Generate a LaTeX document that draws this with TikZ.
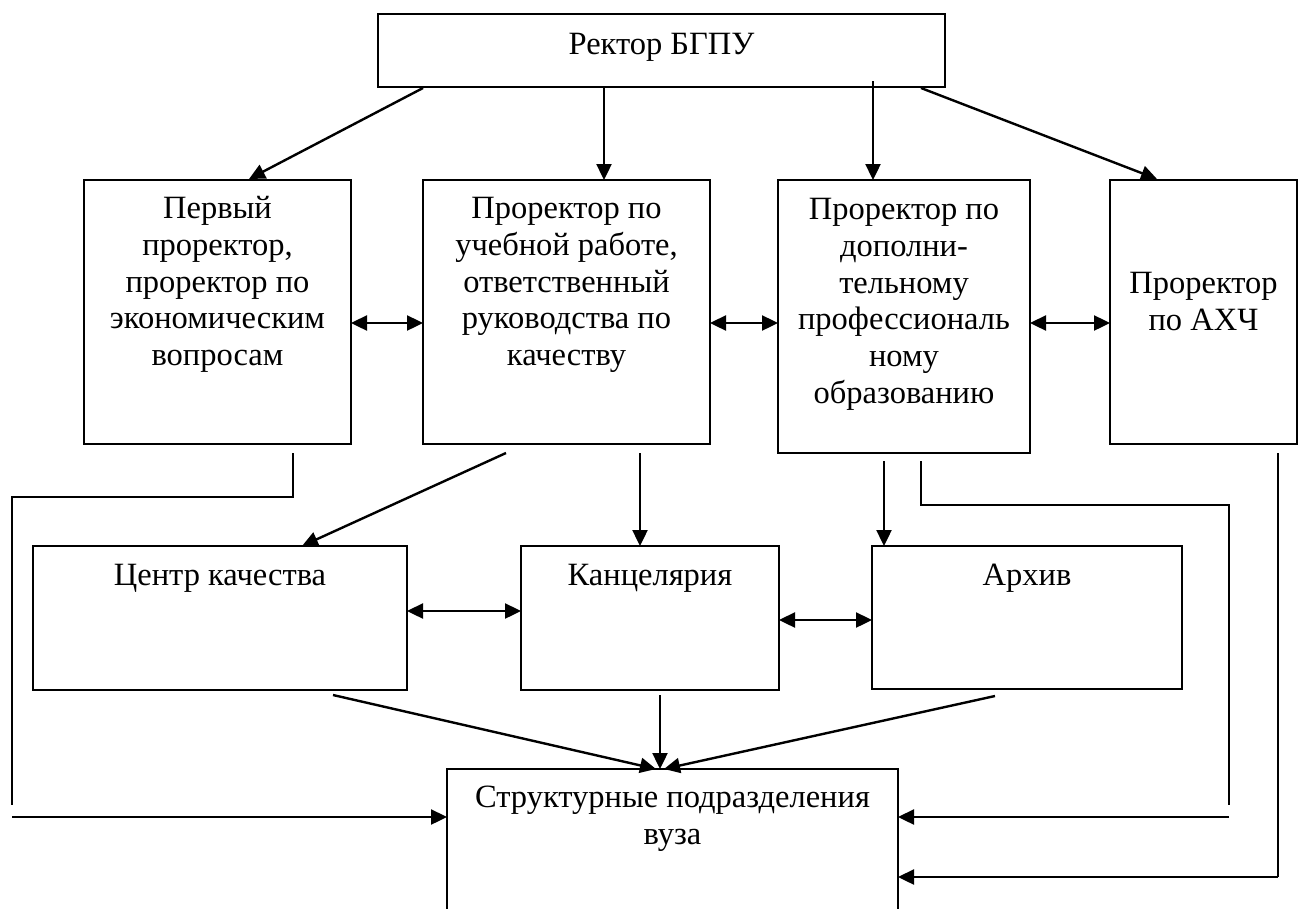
\documentclass[tikz,border=0pt]{standalone}
\usepackage{fontspec}
\setmainfont{Liberation Serif}
\usetikzlibrary{arrows.meta}
\begin{document}
\begin{tikzpicture}[x=1pt,y=-1pt,
  box/.style={draw, line width=1.8pt, inner sep=0pt, outer sep=0pt},
  txt/.style={align=center, inner sep=0pt, anchor=north, font=\fontsize{32.5}{36.8}\selectfont},
  ln/.style={line width=2.4pt},
  arr/.style={line width=2.4pt, -{Triangle[length=16pt,width=15pt]}},
  darr/.style={line width=2.4pt, {Triangle[length=16pt,width=15pt]}-{Triangle[length=16pt,width=15pt]}}]
\clip (0,0) rectangle (1299,908);
\fill[white] (0,0) rectangle (1299,908);
% boxes
\node[box, minimum width=567pt, minimum height=73pt] (rector) at (661.5,50.5) {};
\node[box, minimum width=267pt, minimum height=264pt] (b1) at (217.5,312) {};
\node[box, minimum width=287pt, minimum height=264pt] (b2) at (566.5,312) {};
\node[box, minimum width=252pt, minimum height=273pt] (b3) at (904,316.5) {};
\node[box, minimum width=187pt, minimum height=264pt] (b4) at (1203.5,312) {};
\node[box, minimum width=374pt, minimum height=144pt] (qc) at (220,618) {};
\node[box, minimum width=258pt, minimum height=144pt] (kanc) at (650,618) {};
\node[box, minimum width=310pt, minimum height=143pt] (arch) at (1027,617.5) {};
\node[box, minimum width=451pt, minimum height=200pt] (su) at (672.5,869) {};
% texts
\node[txt] (trector) at (661.5,33) {Ректор БГПУ};
\node[txt] (tb1) at (217.5,196) {Первый\\проректор,\\проректор по\\экономическим\\вопросам};
\node[txt] (tb2) at (566.5,197) {Проректор по\\учебной работе,\\ответственный\\руководства по\\качеству};
\node[txt] (tb3) at (904,198) {Проректор по\\дополни-\\тельному\\профессиональ\\ному\\образованию};
\node[txt] (tb4) at (1203.5,272) {Проректор\\по АХЧ};
\node[txt] (tqc) at (220,564) {Центр качества};
\node[txt] (tkanc) at (650,564) {Канцелярия};
\node[txt] (tarch) at (1027,564) {Архив};
\node[txt] (tsu) at (672.5,786) {Структурные подразделения\\вуза};
% coordinates
\coordinate (r1) at (423,88);
\coordinate (e1) at (249,179);
\coordinate (r2) at (604,88);
\coordinate (r3) at (873,81);
\coordinate (r4) at (921,88);
\coordinate (e4) at (1157,179);
\coordinate (p1) at (293,453);
\coordinate (p2) at (12,497);
\coordinate (p3) at (12,805);
\coordinate (p4) at (12,817);
\coordinate (d1) at (506,453);
\coordinate (d2) at (302,546);
\coordinate (k1) at (640,453);
\coordinate (a1) at (884,461);
\coordinate (q1) at (921,461);
\coordinate (q2) at (1229,505);
\coordinate (q3) at (1229,805);
\coordinate (q4) at (1229,817);
\coordinate (h1) at (1278,453);
\coordinate (h2) at (1278,877);
\coordinate (s1) at (333,695);
\coordinate (s2) at (656,769);
\coordinate (s3) at (660,695);
\coordinate (s4) at (995,696);
\coordinate (s5) at (664,769);
% rector arrows
\draw[arr] (r1) -- (e1);
\draw[arr] (r2) -- (r2 |- b2.north);
\draw[arr] (r3) -- (r3 |- b3.north);
\draw[arr] (r4) -- (e4);
% row 2 double arrows
\draw[darr] (b1.east |- 0,323) -- (b2.west |- 0,323);
\draw[darr] (b2.east |- 0,323) -- (b3.west |- 0,323);
\draw[darr] (b3.east |- 0,323) -- (b4.west |- 0,323);
% left path
\draw[ln] (p1) -- (p1 |- p2) -- (p2) -- (p3);
\draw[arr] (p4) -- (p4 -| su.west);
% b2 to row 3
\draw[arr] (d1) -- (d2);
\draw[arr] (k1) -- (k1 |- kanc.north);
\draw[arr] (a1) -- (a1 |- arch.north);
% right paths
\draw[ln] (q1) -- (q1 |- q2) -- (q2) -- (q3);
\draw[arr] (q4) -- (q4 -| su.east);
\draw[ln] (h1) -- (h2);
\draw[arr] (h2) -- (h2 -| su.east);
% row 3 double arrows
\draw[darr] (qc.east |- 0,611) -- (kanc.west |- 0,611);
\draw[darr] (kanc.east |- 0,620) -- (arch.west |- 0,620);
% to structural units
\draw[arr] (s1) -- (s2);
\draw[arr] (s3) -- (s3 |- su.north);
\draw[arr] (s4) -- (s5);
\end{tikzpicture}
\end{document}
